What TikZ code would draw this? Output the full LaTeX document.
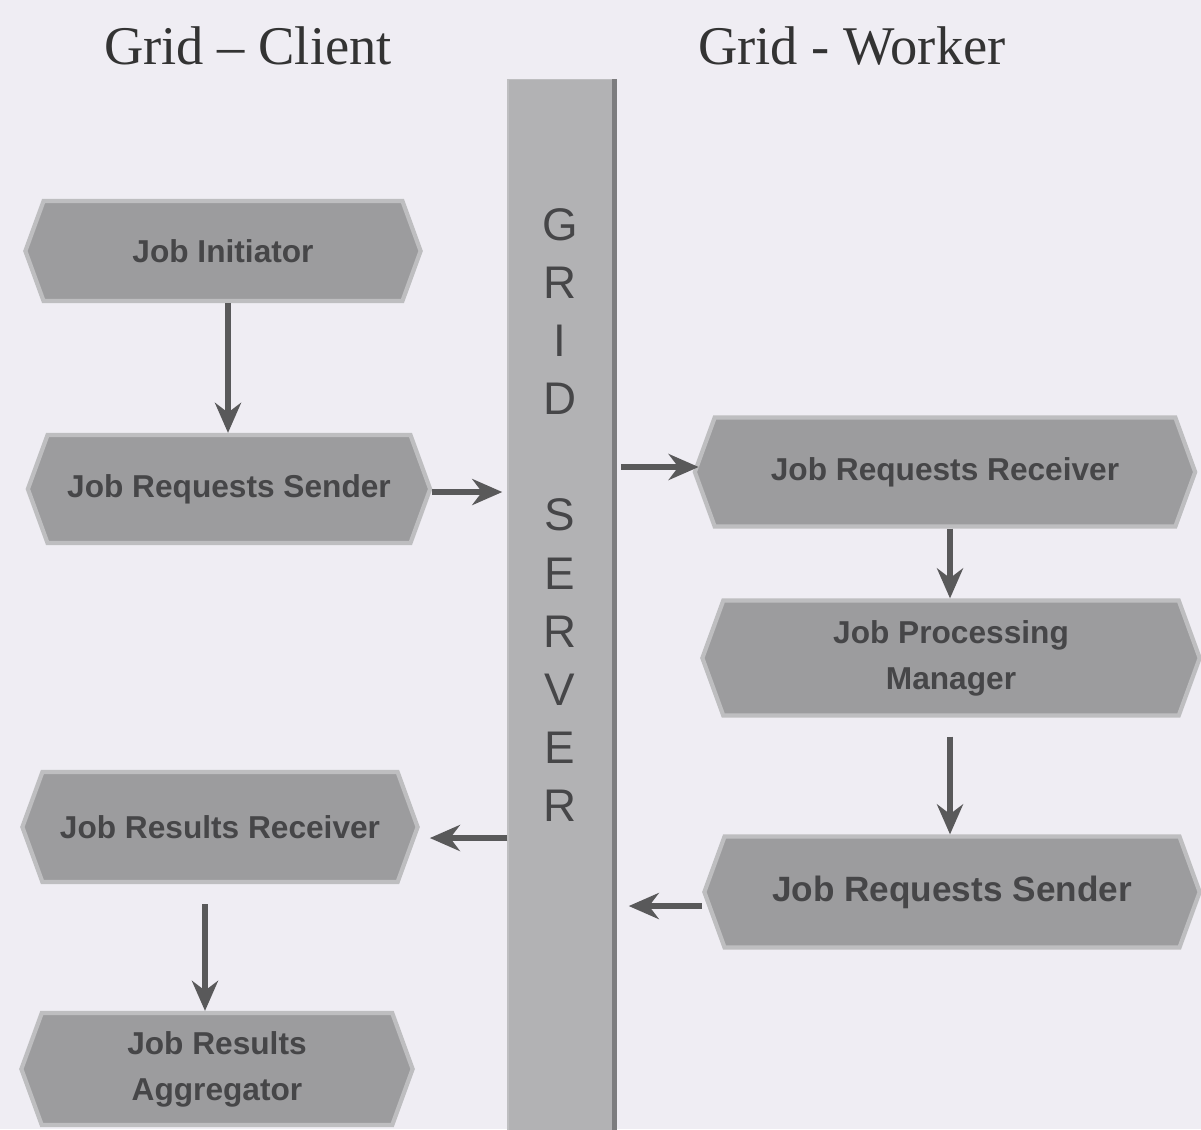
\documentclass[tikz,border=0pt]{standalone}
\usepackage{fontspec}
\setmainfont{Liberation Serif}
\setsansfont{Liberation Sans}
\usetikzlibrary{arrows.meta,positioning,shapes.symbols}
\definecolor{gspaper}{RGB}{239,237,243}
\definecolor{gsbox}{RGB}{156,156,158}
\definecolor{gsedge}{RGB}{190,190,192}
\definecolor{gsbar}{RGB}{178,178,180}
\definecolor{gsink}{RGB}{70,70,72}

\begin{document}
\begin{tikzpicture}[x=0.01cm,y=-0.01cm,
    jb/.style={signal,signal to=west and east,signal pointer angle=140,
      draw=gsedge,line width=1.2pt,fill=gsbox,text=gsink,
      font=\sffamily\bfseries\small,align=center,inner sep=0pt,
      minimum width=3.95cm,minimum height=1cm},
    hd/.style={font=\fontsize{15.5}{19}\selectfont,text=black!80},
    a/.style={-{Stealth[length=3mm,width=2.6mm]},line width=1.5pt,draw=gsink!90}]
    \fill[gspaper] (0,0) rectangle (1201,1129);
    \useasboundingbox (0,0) rectangle (1201,1129);

    \node[hd] (hc) at (248,46) {Grid -- Client};
    \node[hd] (hw) at (852,46) {Grid - Worker};

    % server bar
    \node[fill=gsbar,draw=gsedge,minimum width=1.06cm,minimum height=10.5cm,inner sep=0pt]
      (srv) at (561,605) {};
    \draw[gsink!70,line width=1.5pt] (srv.north east) -- (srv.south east);
    \node[font=\sffamily\fontsize{13}{16.5}\selectfont,text=gsink,align=center]
      (srvtxt) at (560,515) {G\\R\\I\\D\\[16.5pt]S\\E\\R\\V\\E\\R};

    % client side
    \node[jb] (init) at (223,251) {Job Initiator};
    \node[jb,minimum width=4.02cm,minimum height=1.08cm] (reqs) at (229,489) {Job Requests Sender};
    \node[jb,minimum height=1.1cm] (rrec) at (220,827) {Job Results Receiver};
    \node[jb,minimum width=3.91cm,minimum height=1.12cm] (agg) at (217,1069) {Job Results\\[2pt]Aggregator};

    % worker side
    \node[jb,minimum width=5cm,minimum height=1.09cm] (recv) at (945,472) {Job Requests Receiver};
    \node[jb,minimum width=4.97cm,minimum height=1.15cm] (proc) at (951,658) {Job Processing\\[2pt]Manager};
    \node[jb,minimum width=4.95cm,minimum height=1.11cm,font=\sffamily\bfseries\normalsize] (wsnd) at (952,892) {Job Requests Sender};

    \draw[a] ([xshift=0.05cm]init.south) -- ([xshift=0.05cm]init.south |- reqs.north);
    \draw[a] ([yshift=-0.03cm]reqs.east) -- ([xshift=-0.05cm,yshift=-0.03cm]reqs.east -| srv.west);
    \draw[a] ([xshift=0.06cm,yshift=0.05cm]srv.east |- recv.west) -- ([xshift=0.06cm,yshift=0.05cm]recv.west);
    \draw[a] ([xshift=0.05cm]recv.south) -- ([xshift=0.05cm]recv.south |- proc.north);
    \draw[a] ([xshift=-0.01cm,yshift=-0.19cm]proc.south) -- ([xshift=-0.01cm]proc.south |- wsnd.north);
    \draw[a] ([yshift=-0.14cm]wsnd.west) -- ([xshift=0.14cm,yshift=-0.14cm]wsnd.west -| srv.east);
    \draw[a] ([yshift=-0.11cm]srv.west |- rrec.east) -- ([xshift=0.1cm,yshift=-0.11cm]rrec.east);
    \draw[a] ([xshift=-0.15cm,yshift=-0.2cm]rrec.south) -- ([xshift=-0.15cm]rrec.south |- agg.north);
  \end{tikzpicture}
\end{document}
